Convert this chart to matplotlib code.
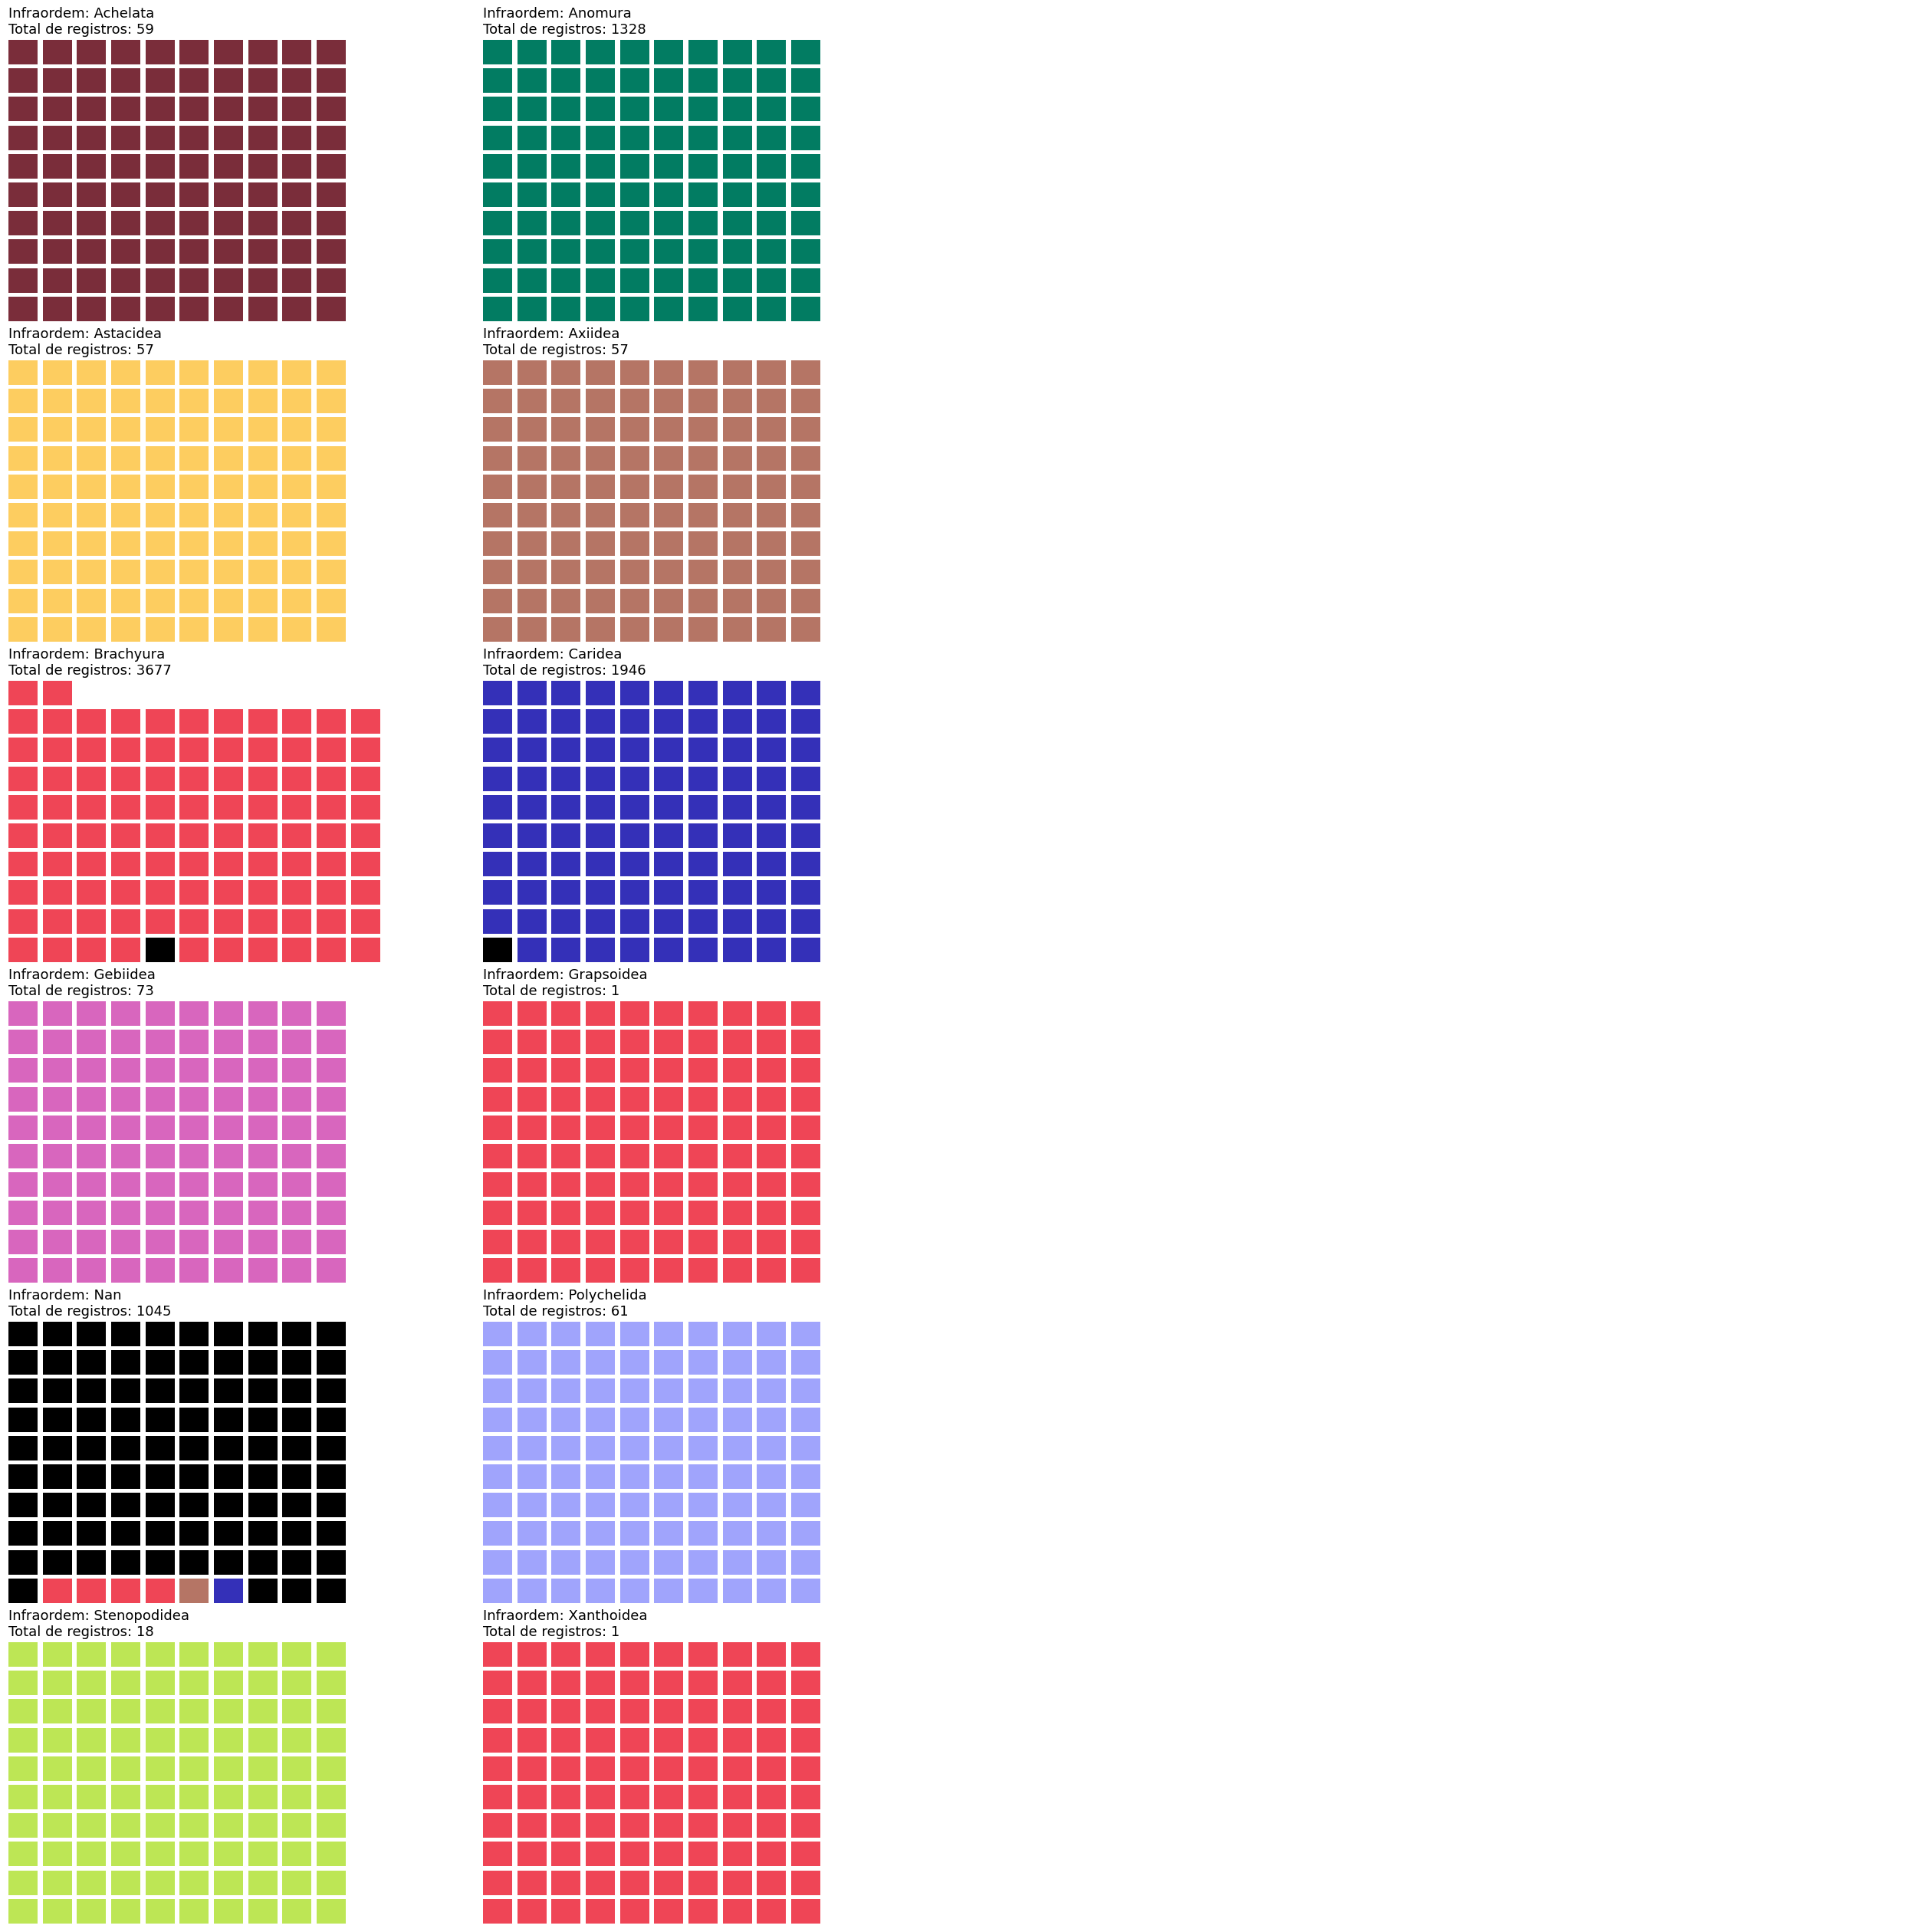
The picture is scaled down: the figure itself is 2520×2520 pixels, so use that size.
import matplotlib
matplotlib.use('Agg')
import matplotlib.pyplot as plt
from matplotlib.patches import Rectangle

# infraordens nos paineis (ordem de leitura: linha a linha)
infraordens = ['Achelata', 'Anomura', 'Astacidea', 'Axiidea', 'Brachyura', 'Caridea',
               'Gebiidea', 'Grapsoidea', 'Nan', 'Polychelida', 'Stenopodidea', 'Xanthoidea']
totais = [59, 1328, 57, 57, 3677, 1946, 73, 1, 1045, 61, 18, 1]

# cores por categoria
cores = {
    'Achelata': '#7A2D3A',
    'Anomura': '#027C62',
    'Astacidea': '#FDCD60',
    'Axiidea': '#B57565',
    'Brachyura': '#EF4556',
    'Caridea': '#3430B8',
    'Gebiidea': '#D866BE',
    'Nan': '#000000',
    'Polychelida': '#A0A4FC',
    'Stenopodidea': '#BDE655',
}

# blocos de cada waffle, na ordem de preenchimento (categoria, quantidade)
blocos = [
    [('Achelata', 100)],
    [('Anomura', 100)],
    [('Astacidea', 100)],
    [('Axiidea', 100)],
    [('Brachyura', 4), ('Nan', 1), ('Brachyura', 96)],
    [('Nan', 1), ('Caridea', 99)],
    [('Gebiidea', 100)],
    [('Brachyura', 100)],
    [('Nan', 1), ('Brachyura', 4), ('Axiidea', 1), ('Caridea', 1), ('Nan', 93)],
    [('Polychelida', 100)],
    [('Stenopodidea', 100)],
    [('Brachyura', 100)],
]
colunas = [10, 10, 10, 10, 11, 10, 10, 10, 10, 10, 10, 10]

W = H = 2520
dpi = 100
fig = plt.figure(figsize=(W / dpi, H / dpi), dpi=dpi)

px_x = 44.67   # passo horizontal dos blocos (px)
px_y = 37.2    # passo vertical dos blocos (px)
bw, bh = 0.85, 0.86
n_linhas = 10

for k, nome in enumerate(infraordens):
    r, c = divmod(k, 2)
    left = 11 + 619 * c
    top = 52 + 418 * r
    ax_w = 12 * px_x
    ax_h = (n_linhas - 1 + bh) * px_y
    ax = fig.add_axes([left / W, 1 - (top + ax_h) / H, ax_w / W, ax_h / H])
    ax.set_xlim(0, 12)
    ax.set_ylim(0, n_linhas - 1 + bh)
    ax.axis('off')

    ncol = colunas[k]
    i = 0
    for cat, n in blocos[k]:
        for _ in range(n):
            lin, col = divmod(i, ncol)
            ax.add_patch(Rectangle((col, lin), bw, bh, facecolor=cores[cat],
                                   edgecolor='none'))
            i += 1

    ax.set_title(f'Infraordem: {nome}\nTotal de registros: {totais[k]}',
                 loc='left', fontsize=13, pad=6)

fig.savefig('out.png', dpi=dpi)
